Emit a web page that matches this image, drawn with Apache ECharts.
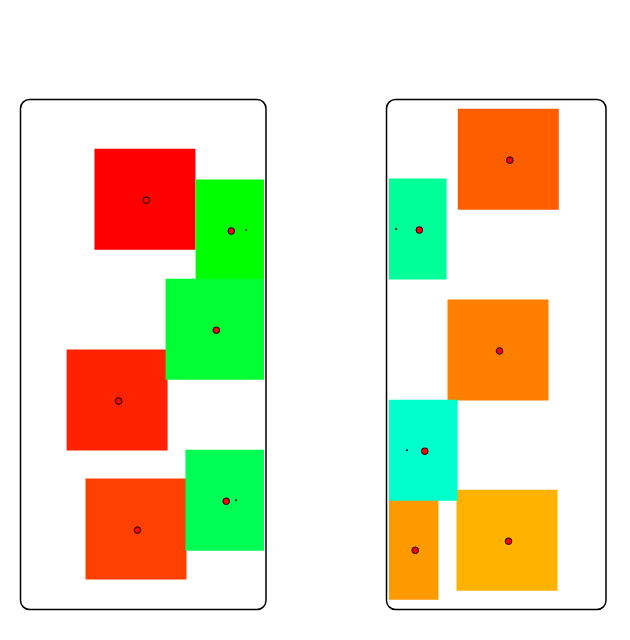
<!DOCTYPE html>
<html>
<head>
<meta charset="utf-8">
<script src="https://cdn.jsdelivr.net/npm/echarts@6/dist/echarts.min.js"></script>
<style>html,body{margin:0;padding:0;background:#fff}#main{width:630px;height:640px}</style>
</head>
<body>
<div id="main"></div>
<script>
// Left panel: square centres (x, y) in panel units 0..100
var leftX = [50.8, 39.3, 47.1, 92.6, 80.2, 88.4];
var leftY = [80.6, 40.9, 15.4, 74.5, 54.9, 21.1];
var leftColors = ['#ff0000', '#ff2200', '#ff4000', '#00ff00', '#00ff33', '#00ff55'];

// Right panel: square centres (x, y) in panel units 0..100
var rightX = [55.5, 50.7, -0.5, 54.9, 3.3, 8.4];
var rightY = [88.5, 50.8, 11.4, 13.2, 74.7, 31.0];
var rightColors = ['#ff5e00', '#ff7f00', '#ff9900', '#ffb300', '#00ff99', '#00ffcc'];

function build(xs, ys, cols) {
  return xs.map(function (x, i) {
    return { value: [x, ys[i]], itemStyle: { color: cols[i] } };
  });
}

var SIZE = 101;
function renderItem(params, api) {
  var p = api.coord([api.value(0), api.value(1)]);
  var cs = params.coordSys;
  var full = { x: p[0] - SIZE / 2, y: p[1] - SIZE / 2, width: SIZE, height: SIZE };
  var clipped = echarts.graphic.clipRectByRect(full, { x: cs.x, y: cs.y, width: cs.width, height: cs.height });
  if (!clipped) return;
  var cx = clipped.x + clipped.width / 2 + 1.5;
  var cy = clipped.y + clipped.height / 2 + 1;
  return {
    type: 'group',
    children: [
      { type: 'rect', shape: clipped, style: { fill: api.visual('color') } },
      { type: 'circle', shape: { cx: p[0], cy: p[1], r: 1 }, style: { fill: '#000' } },
      { type: 'circle', shape: { cx: cx, cy: cy, r: 3.3 }, style: { fill: '#ff0000', stroke: '#000', lineWidth: 1 } }
    ]
  };
}

var chart = echarts.init(document.getElementById('main'));
var axisCommon = { show: false, min: 0, max: 100, splitLine: { show: false } };
chart.setOption({
  animation: false,
  grid: [
    { left: 22, top: 101, width: 242, height: 506 },
    { left: 389, top: 101, width: 215, height: 506 }
  ],
  xAxis: [
    Object.assign({ type: 'value', gridIndex: 0 }, axisCommon),
    Object.assign({ type: 'value', gridIndex: 1 }, axisCommon)
  ],
  yAxis: [
    Object.assign({ type: 'value', gridIndex: 0 }, axisCommon),
    Object.assign({ type: 'value', gridIndex: 1 }, axisCommon)
  ],
  graphic: [
    { type: 'rect', shape: { x: 20.5, y: 99.5, width: 245.5, height: 510, r: 9 }, style: { fill: null, stroke: '#000', lineWidth: 1.5 }, z: 100 },
    { type: 'rect', shape: { x: 386.5, y: 99.5, width: 219.5, height: 510, r: 9 }, style: { fill: null, stroke: '#000', lineWidth: 1.5 }, z: 100 }
  ],
  series: [
    { type: 'custom', xAxisIndex: 0, yAxisIndex: 0, renderItem: renderItem, clip: true, data: build(leftX, leftY, leftColors) },
    { type: 'custom', xAxisIndex: 1, yAxisIndex: 1, renderItem: renderItem, clip: true, data: build(rightX, rightY, rightColors) }
  ]
});
</script>
</body>
</html>
